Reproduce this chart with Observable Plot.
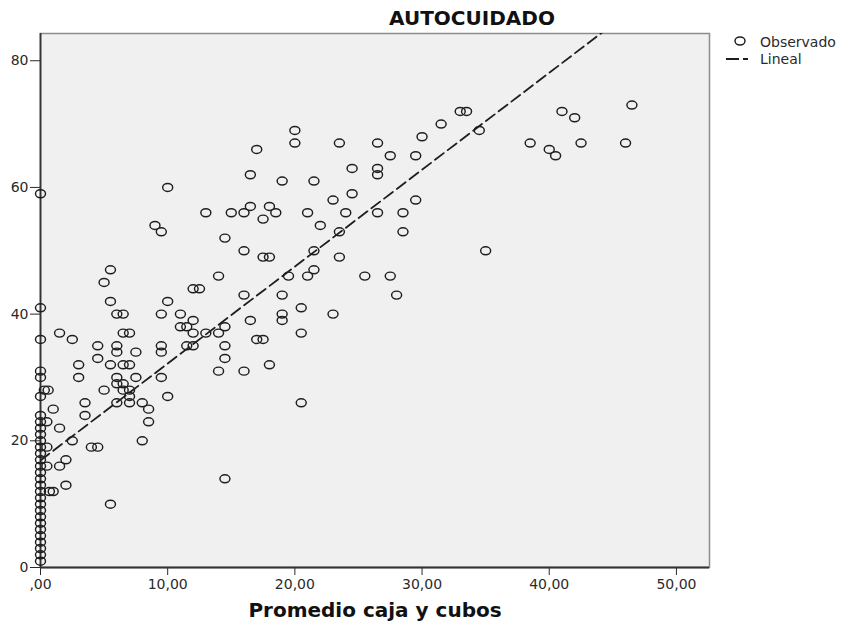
<!DOCTYPE html>
<html>
<head>
<meta charset="utf-8">
<script src="https://cdn.jsdelivr.net/npm/d3@7"></script>
<script src="https://cdn.jsdelivr.net/npm/@observablehq/plot@0.6"></script>
<style>
  body { margin: 0; background: #fff; }
  #chart { position: relative; width: 848px; height: 631px; }
  #legend { position: absolute; left: 0; top: 0; pointer-events: none; }
</style>
</head>
<body>
<div id="chart"></div>
<script>
// Texts
const title = "AUTOCUIDADO";
const xLabel = "Promedio caja y cubos";
const legendLabels = ["Observado", "Lineal"];

// Axis ticks
const xTicks = [0, 10, 20, 30, 40, 50];
const yTicks = [0, 20, 40, 60, 80];

// Observed cases: promedio caja y cubos (x) and autocuidado score (y)
const promedio = [
  0,0,0,0,0,0,0,0,0,0,0,0,0,0,0,0,0,0,0,0,0,0,0,0,0,0,0,0,0,0,
  0.3,0.6,0.5,0.5,0.5,0.7,
  1,1,
  1.5,1.5,1.5,
  2,2,
  2.5,2.5,
  3,3,
  3.5,3.5,
  4,
  4.5,4.5,4.5,
  5,5,
  5.5,5.5,5.5,5.5,
  6,6,6,6,6,6,
  6.5,6.5,6.5,6.5,6.5,
  7,7,7,7,7,
  7.5,7.5,
  8,8,
  8.5,8.5,
  9,
  9.5,9.5,9.5,9.5,9.5,
  10,10,10,
  11,11,
  11.5,11.5,
  12,12,12,12,
  12.5,
  13,13,
  14,14,14,
  14.5,14.5,14.5,14.5,14.5,
  15,
  16,16,16,16,
  16.5,16.5,16.5,
  17,17,
  17.5,17.5,17.5,
  18,18,18,
  18.5,
  19,19,19,19,
  19.5,
  20,20,
  20.5,20.5,20.5,
  21,21,
  21.5,21.5,21.5,
  22,
  23,23,
  23.5,23.5,23.5,
  24,
  24.5,24.5,
  25.5,
  26.5,26.5,26.5,26.5,
  27.5,27.5,
  28,
  28.5,28.5,
  29.5,29.5,
  30,
  31.5,
  33,
  33.5,
  34.5,
  35,
  38.5,
  40,
  40.5,
  41,
  42,
  42.5,
  46,
  46.5
];
const autocuidado = [
  1,2,3,4,5,6,7,8,9,10,11,12,13,14,15,16,17,18,19,20,21,22,23,24,27,30,31,36,41,59,
  28,28,23,19,16,12,
  25,12,
  37,22,16,
  17,13,
  36,20,
  32,30,
  26,24,
  19,
  35,33,19,
  45,28,
  47,42,32,10,
  40,35,34,30,29,26,
  40,37,32,29,28,
  37,32,28,27,26,
  34,30,
  26,20,
  25,23,
  54,
  53,40,35,34,30,
  60,42,27,
  40,38,
  38,35,
  44,39,37,35,
  44,
  56,37,
  46,37,31,
  52,38,35,33,14,
  56,
  56,50,43,31,
  62,57,39,
  66,36,
  55,49,36,
  57,49,32,
  56,
  61,43,40,39,
  46,
  69,67,
  41,37,26,
  56,46,
  61,50,47,
  54,
  58,40,
  67,53,49,
  56,
  63,59,
  46,
  67,63,62,56,
  65,46,
  43,
  56,53,
  65,58,
  68,
  70,
  72,
  72,
  69,
  50,
  67,
  66,
  65,
  72,
  71,
  67,
  67,
  73
];

// Linear fit (Lineal)
const fit = { intercept: 16.9, slope: 1.53 };

// Scale extents
const xDomain = [0, 52.6];
const yDomain = [0, 84.3];

const cases = promedio.map((x, i) => ({ x, y: autocuidado[i] }));

// Open, slightly wide ring used for the observed cases
const ring = {
  draw(ctx) {
    const rx = 5, ry = 4, k = 0.5523;
    ctx.moveTo(rx, 0);
    ctx.bezierCurveTo(rx, ry * k, rx * k, ry, 0, ry);
    ctx.bezierCurveTo(-rx * k, ry, -rx, ry * k, -rx, 0);
    ctx.bezierCurveTo(-rx, -ry * k, -rx * k, -ry, 0, -ry);
    ctx.bezierCurveTo(rx * k, -ry, rx, -ry * k, rx, 0);
    ctx.closePath();
  }
};

const commaFormat = d => d === 0 ? ",00" : d3.format(".2f")(d).replace(".", ",");
const font = "DejaVu Sans, Verdana, sans-serif";

const plot = Plot.plot({
  width: 848,
  height: 631,
  marginLeft: 40,
  marginRight: 139,
  marginTop: 33,
  marginBottom: 64,
  style: { fontFamily: font, fontSize: "14px", color: "#2a2a2a", background: "#fff" },
  x: { domain: xDomain },
  y: { domain: yDomain },
  marks: [
    Plot.frame({ fill: "#f0f0f0", stroke: "#8c8c8c", strokeWidth: 1.5 }),
    Plot.ruleX([0], { stroke: "#333", strokeWidth: 1.8 }),
    Plot.ruleY([0], { stroke: "#333", strokeWidth: 1.8 }),
    Plot.dot(cases, { x: "x", y: "y", symbol: ring, stroke: "#1e1e1e", strokeWidth: 1.45, fill: "none" }),
    Plot.line(xDomain, {
      x: d => d,
      y: d => fit.intercept + fit.slope * d,
      clip: true,
      stroke: "#1e1e1e",
      strokeWidth: 1.8,
      strokeDasharray: "11,5"
    }),
    Plot.axisX({ ticks: xTicks, tickFormat: commaFormat, tickSize: 8, tickPadding: 4, label: null, fontSize: 14 }),
    Plot.axisY({ ticks: yTicks, tickSize: 10, tickPadding: 2, label: null, fontSize: 14 }),
    Plot.text([xLabel], {
      frameAnchor: "bottom", dy: 49, fontSize: 20, fontWeight: "bold", fill: "#111", ariaLabel: "xlabel"
    }),
    Plot.text([title], {
      frameAnchor: "top", dx: 97, dy: -23, fontSize: 20, fontWeight: "bold", fill: "#111", ariaLabel: "title"
    })
  ]
});

d3.select(plot).selectAll('g[aria-label="title"] text').style("letter-spacing", "1.4px");
d3.select(plot).selectAll('g[aria-label="xlabel"] text').style("letter-spacing", "0.3px");

const chart = document.getElementById("chart");
chart.appendChild(plot);

// Legend (Observado / Lineal) at the right of the frame
const legend = d3.select(chart).append("svg")
  .attr("id", "legend").attr("width", 848).attr("height", 631);
const lg = legend.append("g").attr("font-family", font).attr("font-size", 14).attr("fill", "#2a2a2a");
const ringPath = d3.path();
ring.draw(ringPath);
lg.append("path")
  .attr("d", ringPath.toString())
  .attr("transform", "translate(740,41)")
  .attr("fill", "none").attr("stroke", "#1e1e1e").attr("stroke-width", 1.45);
lg.append("text").attr("x", 760).attr("y", 47).text(legendLabels[0]);
lg.append("line")
  .attr("x1", 726).attr("x2", 756).attr("y1", 59).attr("y2", 59)
  .attr("stroke", "#1e1e1e").attr("stroke-width", 1.8).attr("stroke-dasharray", "13,4,5,20");
lg.append("text").attr("x", 760).attr("y", 64).text(legendLabels[1]);
</script>
</body>
</html>
